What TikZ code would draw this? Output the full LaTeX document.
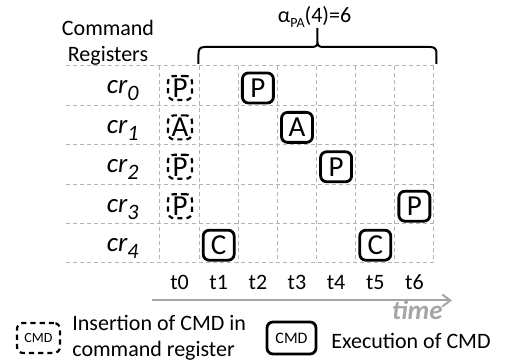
\documentclass[tikz,border=0pt]{standalone}
\usepackage{fontspec}
\setmainfont{Carlito}
\usetikzlibrary{arrows.meta}
\definecolor{gridgray}{RGB}{180,180,180}
\definecolor{timegray}{RGB}{166,166,166}
\begin{document}
\begin{tikzpicture}[x=0.5pt,y=-0.5pt,
  gridline/.style={draw=gridgray, line width=0.5pt, dash pattern=on 2pt off 1.5pt},
  execbox/.style={draw, line width=1.4pt, rounded corners=3pt, minimum width=15.5pt, minimum height=15pt, inner sep=0pt, font=\fontsize{14.5}{14.5}\selectfont},
  insbox/.style={draw, line width=1.1pt, dash pattern=on 2.6pt off 2pt, rounded corners=3pt, minimum width=12pt, minimum height=12pt, inner sep=0pt, font=\fontsize{14.5}{14.5}\selectfont},
  lbl/.style={font=\fontsize{11}{13}\selectfont, inner sep=0pt},
  reg/.style={font=\fontsize{13.5}{13.5}\selectfont\itshape, anchor=base east, inner sep=0pt},
  tlbl/.style={lbl, anchor=base}
]
\useasboundingbox (0,0) rectangle (505,362);
% grid
\foreach \y in {66,105.4,144.8,184.2,223.6,263}
  \draw[gridline] (66,\y) -- (434,\y);
\foreach \x in {160,199.1,238.3,277.4,316.6,355.7,394.9,434}
  \draw[gridline] (\x,66) -- (\x,263);
% header
\node[lbl, anchor=base] (cmdA) at (108,36) {Command};
\node[lbl, anchor=base] (cmdB) at (108,62) {Registers};
% registers
\newcommand{\regsub}[1]{\raisebox{-3.5pt}{\fontsize{11}{11}\selectfont #1}}
\node[reg] (cr0) at (139,94) {cr\regsub{0}};
\node[reg] (cr1) at (139,133.4) {cr\regsub{1}};
\node[reg] (cr2) at (139,172.8) {cr\regsub{2}};
\node[reg] (cr3) at (139,212.2) {cr\regsub{3}};
\node[reg] (cr4) at (139,251.6) {cr\regsub{4}};
% insertion boxes
\node[insbox] (i0) at (180,88) {P};
\node[insbox] (i1) at (180,127.4) {A};
\node[insbox] (i2) at (180,166.8) {P};
\node[insbox] (i3) at (180,206.2) {P};
% execution boxes
\node[execbox] (e0) at (257.9,88) {P};
\node[execbox] (e1) at (297,127.4) {A};
\node[execbox] (e2) at (336.1,166.8) {P};
\node[execbox] (e3) at (414.4,206.2) {P};
\node[execbox] (e4) at (218.7,245.2) {C};
\node[execbox] (e5) at (375.3,245.2) {C};
% time labels
\node[tlbl] (t0) at (179.6,290) {t0};
\node[tlbl] (t1) at (218.7,290) {t1};
\node[tlbl] (t2) at (257.9,290) {t2};
\node[tlbl] (t3) at (297,290) {t3};
\node[tlbl] (t4) at (336.1,290) {t4};
\node[tlbl] (t5) at (375.3,290) {t5};
\node[tlbl] (t6) at (414.4,290) {t6};
% time arrow
\coordinate (ts) at (152,300.5);
\coordinate (te) at (452,300.5);
\draw[timegray, line width=1pt, -{Straight Barb[length=4pt,width=6pt]}] (ts) -- (te);
\node[font=\fontsize{13.5}{14}\selectfont\bfseries\itshape, text=timegray, anchor=base east, inner sep=0pt] (time) at (443,320) {time};
% brace
\draw[line width=1pt] (198.5,64) -- (198.5,54) .. controls (198.5,49) and (200,47) .. (205,47)
  -- (312,47) .. controls (316,47) and (317.5,45.5) .. (317.5,42) -- (317.5,28)
  -- (317.5,42) .. controls (317.5,45.5) and (319,47) .. (323,47)
  -- (430,47) .. controls (435,47) and (436.5,49) .. (436.5,54) -- (436.5,64);
\node[lbl, anchor=base] (alpha) at (314.5,23) {α\raisebox{-2.5pt}{\fontsize{7}{7}\selectfont PA}(4)=6};
% legend
\node[insbox, minimum width=21.5pt, minimum height=15pt, font=\fontsize{7}{7}\selectfont] (legins) at (38.5,338) {CMD};
\node[lbl, anchor=base west] (legtxtA) at (72,331) {Insertion of CMD in};
\node[lbl, anchor=base west] (legtxtB) at (72,357) {command register};
\node[execbox, minimum width=24.5pt, minimum height=16pt, font=\fontsize{8}{8}\selectfont] (legexec) at (291.5,338) {CMD};
\node[lbl, anchor=base west] (legtxtC) at (331,349) {Execution of CMD};
\end{tikzpicture}
\end{document}
